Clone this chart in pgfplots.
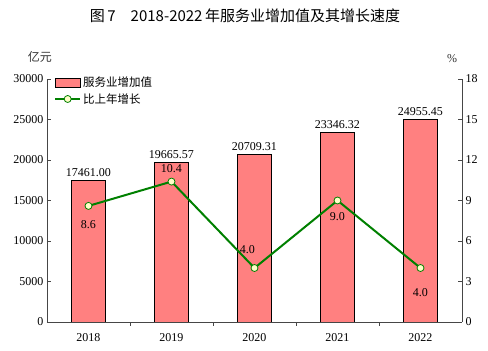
\documentclass[border=0pt]{standalone}
\usepackage{fontspec}
\setmainfont{Liberation Serif}
\newfontfamily\cjk{Noto Sans CJK SC}
\usepackage{pgfplots}
\pgfplotsset{compat=1.18}
\pgfkeys{/pgf/number format/assume math mode=true}
\definecolor{barcol}{RGB}{255,128,128}
\definecolor{linecol}{RGB}{0,128,0}
\definecolor{markcol}{RGB}{255,255,200}
\definecolor{axcol}{RGB}{70,70,70}
\pgfplotsset{linelegend/.style={legend image code/.code={\draw[mark repeat=2,mark phase=2,##1] plot coordinates {(0pt,0pt)(12.5pt,0pt)(25pt,0pt)};}},
  barlegend/.style={legend image code/.code={\draw[fill=barcol,draw=black,line width=0.8pt] (0pt,-4.5pt) rectangle (25pt,4.5pt);}}}
\begin{document}
\begin{tikzpicture}
\path[use as bounding box] (-47pt,-29pt) rectangle (441pt,322pt);
\begin{axis}[
  at={(0pt,0pt)}, anchor=south west,
  scale only axis, width=415pt, height=243pt,
  xmin=-0.5, xmax=4.5, ymin=0, ymax=30000,
  axis x line*=bottom, axis y line*=left,
  axis line style={axcol, line width=0.8pt, -},
  every tick/.style={axcol, line width=0.8pt},
  ytick={0,5000,...,30000},
  xtick={0,1,2,3,4}, xticklabels={2018,2019,2020,2021,2022},
  major x tick style={draw=none},
  minor xtick={0.5,1.5,2.5,3.5},
  tick align=inside, major tick length=4pt, minor tick length=4pt,
  scaled y ticks=false,
  yticklabel style={/pgf/number format/1000 sep={}},
  tick label style={font=\fontsize{12}{12}\selectfont},
  xticklabel style={yshift=-4pt},
  ybar, bar width=0.4,
  nodes near coords,
  every node near coord/.append style={font=\fontsize{12}{12}\selectfont,
    /pgf/number format/fixed, /pgf/number format/fixed zerofill,
    /pgf/number format/precision=2, /pgf/number format/1000 sep={}},
]
\addplot[fill=barcol, draw=black, line width=0.8pt] coordinates {
  (0,17461.00) (1,19665.57) (2,20709.31) (3,23346.32) (4,24955.45)};
\end{axis}
\begin{axis}[
  at={(0pt,0pt)}, anchor=south west,
  scale only axis, width=415pt, height=243pt,
  xmin=-0.5, xmax=4.5, ymin=0, ymax=18,
  axis y line*=right, axis x line=none,
  axis line style={axcol, line width=0.8pt, -},
  every tick/.style={axcol, line width=0.8pt},
  ytick={0,3,...,18},
  tick align=inside, major tick length=4pt,
  tick label style={font=\fontsize{12}{12}\selectfont},
  legend style={at={(axis description cs:0,1)}, anchor=north west,
    xshift=4pt, yshift=6pt, draw=none, fill=none,
    font=\cjk\fontsize{11.5}{13}\selectfont, row sep=1pt},
  legend cell align=left,
]
\addlegendimage{barlegend}
\addlegendentry{服务业增加值}
\addplot[linecol, line width=2pt, mark=*, mark size=3.5pt,
  mark options={fill=markcol, draw=linecol, line width=0.8pt}, linelegend]
  coordinates {(0,8.6) (1,10.4) (2,4.0) (3,9.0) (4,4.0)};
\addlegendentry{比上年增长}
\addplot[draw=none, mark=none, forget plot,
  nodes near coords, point meta=\thisrow{y},
  visualization depends on={\thisrow{dx}\as\dx},
  visualization depends on={\thisrow{dy}\as\dy},
  every node near coord/.append style={anchor=center, xshift=\dx pt, yshift=\dy pt,
    font=\fontsize{12}{12}\selectfont,
    /pgf/number format/fixed, /pgf/number format/fixed zerofill,
    /pgf/number format/precision=1}]
  table {
x y dx dy
0 8.6 0 -19
1 10.4 0 13
2 4.0 -7 18
3 9.0 0 -16
4 4.0 0 -25
};
\end{axis}
\node[font=\cjk\fontsize{15}{17}\selectfont] at (198pt,306pt) {图\,7\hspace{1em}2018-2022\,年服务业增加值及其增长速度};
\node[font=\cjk\fontsize{12}{14}\selectfont, text=black!80] at (-7pt,265pt) {亿元};
\node[font=\fontsize{12}{14}\selectfont, text=black!80] at (405pt,263pt) {\%};
\end{tikzpicture}
\end{document}
